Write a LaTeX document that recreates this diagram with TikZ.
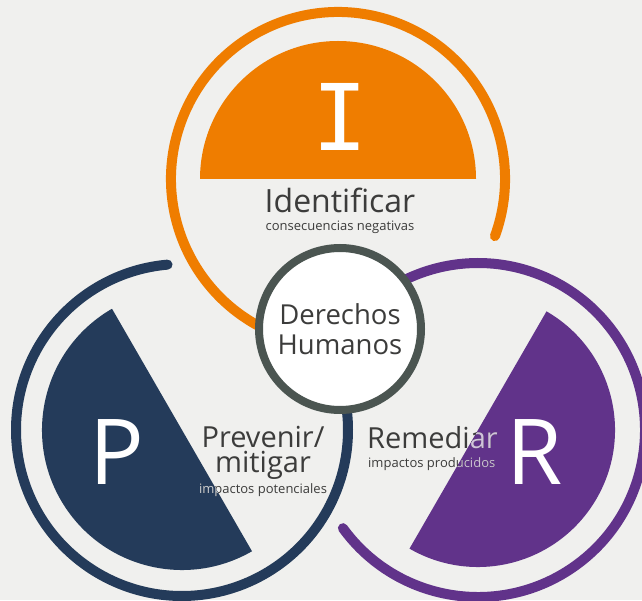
\documentclass[tikz,border=0pt]{standalone}
\usepackage{fontspec}
\setmainfont{Open Sans}
\newfontfamily\letterfont{DejaVu Sans Mono}
\usepackage{tikz}
\usetikzlibrary{positioning,calc}

\definecolor{paper}{HTML}{F0F0EE}
\definecolor{idorange}{HTML}{EF7D00}
\definecolor{prnavy}{HTML}{243B5A}
\definecolor{repurple}{HTML}{61338A}
\definecolor{dhgrey}{HTML}{4B5551}
\definecolor{txtgrey}{HTML}{3C3C3B}

\begin{document}
\begin{tikzpicture}[x=1pt,y=1pt,
ring/.style={line width=10pt,line cap=round},
bigletter/.style={text=white,font=\fontsize{91}{91}\selectfont,inner sep=0pt},
biglabel/.style={text=txtgrey,font=\fontsize{29}{25}\selectfont,inner sep=0pt},
smalllabel/.style={text=txtgrey,font=\fontsize{13}{13}\selectfont,inner sep=0pt}]
\fill[paper] (0,0) rectangle (642,600);
\useasboundingbox (0,0) rectangle (642,600);

% centres of the three circles
\coordinate (iden) at (338,421);
\coordinate (prev) at (182,170);
\coordinate (reme) at (478,170);

% outer rings
\draw[ring,idorange] (iden) ++(-20:167) arc (-20:250:167);
\draw[ring,prnavy] (prev) ++(95:166) arc (95:380:166);
\draw[ring,repurple] (reme) ++(-144:167) arc (-144:140:167);

% half discs
\fill[idorange] (iden) ++(0:138) arc (0:180:138) -- cycle;
\fill[prnavy] (prev) ++(120:140) arc (120:300:140) -- cycle;
\fill[repurple] (reme) ++(-120:137) arc (-120:60:137) -- cycle;

\node[bigletter,font=\letterfont\fontsize{92}{92}\selectfont] (I) at (340,483) {I};
\node[bigletter] (P) at (117,148) {P};
\node[bigletter] (R) at (535,148) {R};

% labels
\node[biglabel,font=\fontsize{32}{32}\selectfont,anchor=base] (identificar) at (340,387) {Identificar};
\node[smalllabel,anchor=base] (consec) at (340,369) {consecuencias negativas};

\node[biglabel,align=center,anchor=base,text depth=3pt] (prevenir) at (263,128) {Prevenir/\\mitigar};
\node[smalllabel,anchor=base] (potenc) at (263,107) {impactos potenciales};

\node[biglabel,anchor=base west] (remediar) at (367,152) {Remediar};
\node[smalllabel,anchor=base west] (produc) at (368,133) {impactos producidos};

% text over the discs in a lighter tone
\begin{scope}
\clip (prev) ++(120:140) arc (120:300:140) -- cycle;
\node[smalllabel,text=prnavy!25!white,anchor=base] (potenc-l) at (potenc.base) {impactos potenciales};
\end{scope}
\begin{scope}
\clip (reme) ++(-120:137) arc (-120:60:137) -- cycle;
\node[biglabel,text=repurple!30!white,anchor=base west] (remediar-l) at (remediar.base west) {Remediar};
\node[smalllabel,text=repurple!30!white,anchor=base west] (produc-l) at (produc.base west) {impactos producidos};
\end{scope}

% centre
\node[circle,draw=dhgrey,line width=8pt,fill=white,minimum size=162pt,
  align=center,text=txtgrey,font=\fontsize{27.5}{30}\selectfont] (dh) at (340,271) {Derechos\\Humanos};
\end{tikzpicture}
\end{document}
